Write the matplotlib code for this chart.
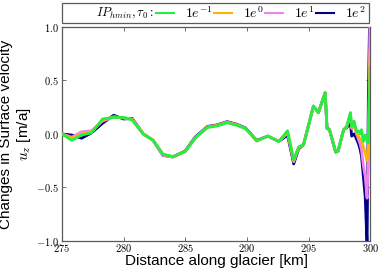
import numpy as np
import matplotlib
matplotlib.use("Agg")
import matplotlib.pyplot as plt
from matplotlib.ticker import FuncFormatter, MultipleLocator
from matplotlib.lines import Line2D
from matplotlib.patches import Rectangle

plt.rcParams['mathtext.fontset'] = 'cm'
plt.rcParams['font.family'] = ['Liberation Sans', 'DejaVu Sans']

# distancia ao longo da geleira [km]
dist = [275.0, 275.8, 276.6, 277.4, 278.3, 279.2, 280.0, 280.7, 281.6, 282.4,
        283.2, 284.0, 285.0, 285.8, 286.8, 287.6, 288.4, 289.2, 289.9, 290.8,
        291.7, 292.6, 293.3, 293.8, 294.2, 294.6, 295.4, 295.8, 296.35, 296.5,
        296.7, 297.2, 297.4, 297.85, 298.1, 298.4, 298.5, 298.7, 298.9, 299.05,
        299.2, 299.3, 299.45, 299.6, 299.75, 299.86, 300.0]

# tau0 = 1e-1
u_em1 = [0.0, -0.06, -0.01, 0.01, 0.14, 0.155, 0.155, 0.13, 0.0, -0.06,
         -0.19, -0.21, -0.165, -0.04, 0.06, 0.075, 0.105, 0.08, 0.05, -0.065,
         -0.02, -0.07, 0.03, -0.24, -0.12, -0.10, 0.26, 0.20, 0.385, 0.05,
         0.04, -0.165, -0.16, 0.04, 0.07, 0.20, 0.07, 0.12, 0.02, 0.03,
         0.0, 0.04, -0.07, -0.01, -0.07, -0.08, 0.62]
# tau0 = 1e0
u_e0 = [0.0, -0.04, 0.0, 0.02, 0.13, 0.16, 0.15, 0.135, 0.0, -0.06,
        -0.19, -0.215, -0.165, -0.04, 0.065, 0.08, 0.11, 0.085, 0.05, -0.065,
        -0.02, -0.07, 0.02, -0.25, -0.13, -0.10, 0.26, 0.20, 0.385, 0.05,
        0.04, -0.165, -0.16, 0.04, 0.07, 0.19, 0.06, 0.10, 0.01, -0.02,
        -0.05, -0.06, -0.12, -0.18, -0.25, -0.12, 0.78]
# tau0 = 1e1
u_e1 = [0.0, -0.03, 0.02, 0.03, 0.12, 0.16, 0.15, 0.14, 0.0, -0.06,
        -0.2, -0.215, -0.165, -0.035, 0.065, 0.08, 0.11, 0.085, 0.05, -0.065,
        -0.02, -0.07, 0.01, -0.26, -0.13, -0.10, 0.26, 0.20, 0.385, 0.05,
        0.04, -0.17, -0.16, 0.04, 0.065, 0.18, 0.05, 0.08, 0.0, -0.05,
        -0.10, -0.15, -0.30, -0.40, -0.60, -0.20, 1.3]
# tau0 = 1e2
u_e2 = [0.0, -0.01, -0.04, 0.01, 0.10, 0.175, 0.14, 0.145, 0.0, -0.06,
        -0.2, -0.215, -0.16, -0.03, 0.07, 0.085, 0.115, 0.09, 0.055, -0.06,
        -0.02, -0.07, -0.01, -0.28, -0.14, -0.10, 0.26, 0.20, 0.385, 0.06,
        0.04, -0.17, -0.16, 0.04, 0.06, 0.10, -0.02, 0.0, -0.05, -0.09,
        -0.15, -0.21, -0.40, -0.59, -1.05, 0.40, 1.4]

cores = ['#22EE44', '#FFB300', 'violet', 'navy']
rotulos = [r'$1e^{-1}$', r'$1e^{0}$', r'$1e^{1}$', r'$1e^{2}$']
series = [u_em1, u_e0, u_e1, u_e2]

fig = plt.figure(figsize=(3.82, 2.72), dpi=100)
ax = fig.add_axes([0.162, 0.114, 0.807, 0.787])

# desenha do ultimo para o primeiro, verde por cima
for i in [3, 2, 1, 0]:
    ax.plot(dist, series[i], color=cores[i], lw=2.0, zorder=2 + (3 - i))

ax.set_xlim(275, 300)
ax.set_ylim(-1.0, 1.0)
ax.xaxis.set_major_locator(MultipleLocator(5))
ax.yaxis.set_major_locator(MultipleLocator(0.5))
ax.xaxis.set_major_formatter(FuncFormatter(lambda v, p: r'$%d$' % v))
ax.yaxis.set_major_formatter(FuncFormatter(lambda v, p: r'$%.1f$' % v))
ax.tick_params(direction='in', top=True, right=True, labelsize=7.5,
               length=3, width=0.6, color='0.35')
ax.tick_params(axis='x', pad=1)
ax.tick_params(axis='y', pad=2)
for s in ax.spines.values():
    s.set_color('0.35')
    s.set_linewidth(0.9)

ax.set_xlabel('Distance along glacier [km]', fontsize=11, labelpad=0)
ax.set_ylabel('Changes in Surface velocity\n' + r'$\boldsymbol{u_z}$ [m/a]',
              fontsize=11, labelpad=2)

# caixa da legenda acima do grafico
caixa = Rectangle((0.0, 1.017), 0.997, 0.094, transform=ax.transAxes,
                  fill=False, edgecolor='0.35', lw=0.9, clip_on=False)
ax.add_patch(caixa)
ax.text(0.11, 1.064, r'$IP_{hmin},\tau_0:$',
        transform=ax.transAxes, fontsize=9, va='center', ha='left')

handles = [Line2D([], [], color=c, lw=1.5) for c in cores]
leg = ax.legend(handles, rotulos, ncol=4, mode='expand', loc='center left',
                bbox_to_anchor=(0.305, 1.064, 0.68, 0.0), borderaxespad=0.0,
                fontsize=10, handlelength=1.3, handletextpad=0.8,
                columnspacing=0.3, borderpad=0.0, frameon=False)

fig.savefig('out.png', dpi=100)
